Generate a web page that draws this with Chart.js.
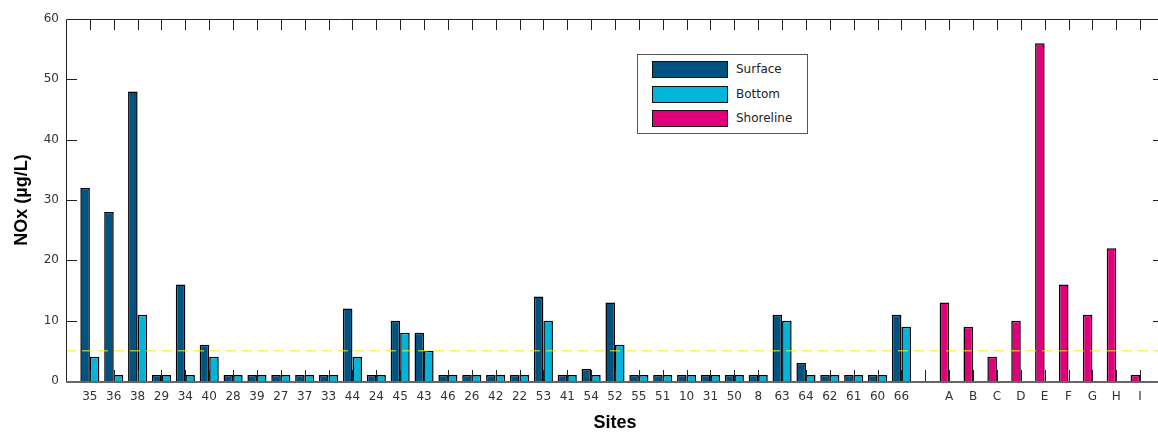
<!DOCTYPE html>
<html lang="en">
<head>
    <meta charset="UTF-8">
    <title>NOx by site</title>
    <script src="https://cdn.jsdelivr.net/npm/chart.js"></script>
    <style>
        html, body {
            margin: 0;
            padding: 0;
            overflow: hidden;
            background: #fff;
        }

        #wrap {
            position: relative;
            width: 1164px;
            height: 432px;
        }

        #noxChart {
            display: block;
        }

        #legendBox {
            position: absolute;
            left: 637px;
            top: 54px;
            width: 169px;
            height: 78px;
            border: 1px solid #555;
            background: #fff;
            font-family: "DejaVu Sans", sans-serif;
            font-size: 12px;
            color: #222;
        }

        .item {
            position: absolute;
            left: 14px;
            height: 17px;
            line-height: 17px;
        }

        .swatch {
            display: inline-block;
            width: 74px;
            height: 15px;
            border: 1px solid #111;
            vertical-align: top;
            margin-right: 8px;
        }
    </style>
</head>
<body>
    <div id="wrap">
        <canvas id="noxChart" width="1164" height="432"></canvas>
        <div id="legendBox">
            <div class="item" style="top: 6px;"><span class="swatch" style="background:#005280"></span>Surface</div>
            <div class="item" style="top: 31px;"><span class="swatch" style="background:#00B4DC"></span>Bottom</div>
            <div class="item" style="top: 55px;"><span class="swatch" style="background:#E0007A"></span>Shoreline</div>
        </div>
    </div>

    <script>
        // 조사 지점
        const sites = ['35', '36', '38', '29', '34', '40', '28', '39', '27', '37', '33', '44', '24', '45', '43', '46', '26', '42',
                       '22', '53', '41', '54', '52', '55', '51', '10', '31', '50', '8', '63', '64', '62', '61', '60', '66'];
        const surface = [32, 28, 48, 1, 16, 6, 1, 1, 1, 1, 1, 12, 1, 10, 8, 1, 1, 1,
                         1, 14, 1, 2, 13, 1, 1, 1, 1, 1, 1, 11, 3, 1, 1, 1, 11];
        const bottom = [4, 1, 11, 1, 1, 4, 1, 1, 1, 1, 1, 4, 1, 8, 5, 1, 1, 1,
                        1, 10, 1, 1, 6, 1, 1, 1, 1, 1, 1, 10, 1, 1, 1, 1, 9];

        const shoreSites = ['A', 'B', 'C', 'D', 'E', 'F', 'G', 'H', 'I'];
        const shoreline = [13, 9, 4, 10, 56, 16, 11, 22, 1];

        const refLevel = 5;
        const yTicks = [0, 10, 20, 30, 40, 50, 60];

        // 빈 칸: 맨 앞, 지점과 해안 사이, 맨 뒤
        const labels = ['', ...sites, '', ...shoreSites, ''];
        const none = n => new Array(n).fill(null);
        const surfaceData = [null, ...surface, null, ...none(shoreSites.length), null];
        const bottomData = [null, ...bottom, null, ...none(shoreSites.length), null];
        const shoreData = [null, ...none(sites.length), null, ...shoreline, null];
        const refData = labels.map(() => refLevel);

        const tickFont = { family: 'DejaVu Sans', size: 12 };

        // 안쪽 눈금과 테두리
        const framePlugin = {
            id: 'frame',
            afterDatasetsDraw(chart) {
                const { ctx, chartArea: a, scales: { x, y } } = chart;
                ctx.save();
                ctx.strokeStyle = '#222';
                ctx.lineWidth = 1;
                ctx.beginPath();
                for (let i = 1; i < labels.length - 1; i++) {
                    const px = Math.round(x.getPixelForTick(i)) + 0.5;
                    ctx.moveTo(px, a.bottom);
                    ctx.lineTo(px, a.bottom - 11);
                    ctx.moveTo(px, a.top);
                    ctx.lineTo(px, a.top + 11);
                }
                yTicks.slice(1, -1).forEach(v => {
                    const py = Math.round(y.getPixelForValue(v)) + 0.5;
                    ctx.moveTo(a.left, py);
                    ctx.lineTo(a.left + 11, py);
                    ctx.moveTo(a.right, py);
                    ctx.lineTo(a.right - 11, py);
                });
                ctx.stroke();

                ctx.beginPath();
                ctx.moveTo(a.left + 0.5, a.bottom);
                ctx.lineTo(a.left + 0.5, a.top + 0.5);
                ctx.lineTo(a.right - 0.5, a.top + 0.5);
                ctx.lineTo(a.right - 0.5, a.bottom);
                ctx.stroke();

                ctx.strokeStyle = '#666';
                ctx.lineWidth = 2;
                ctx.beginPath();
                ctx.moveTo(a.left, a.bottom + 1);
                ctx.lineTo(a.right, a.bottom + 1);
                ctx.stroke();
                ctx.restore();
            }
        };

        const ctx = document.getElementById('noxChart').getContext('2d');
        new Chart(ctx, {
            type: 'bar',
            data: {
                labels: labels,
                datasets: [
                    {
                        type: 'line',
                        label: 'ref',
                        data: refData,
                        borderColor: '#F0F000',
                        borderWidth: 1,
                        borderDash: [10, 6],
                        pointRadius: 0,
                        fill: false,
                        order: -1
                    },
                    {
                        label: 'Surface',
                        data: surfaceData,
                        backgroundColor: '#005280',
                        borderColor: '#000',
                        borderWidth: 1.5,
                        stack: 'a'
                    },
                    {
                        label: 'Bottom',
                        data: bottomData,
                        backgroundColor: '#00B4DC',
                        borderColor: '#000',
                        borderWidth: 1.5,
                        stack: 'b'
                    },
                    {
                        label: 'Shoreline',
                        data: shoreData,
                        backgroundColor: '#E0007A',
                        borderColor: '#000',
                        borderWidth: 1.5,
                        stack: 'a'
                    }
                ]
            },
            options: {
                responsive: false,
                animation: false,
                categoryPercentage: 0.8,
                barPercentage: 1.0,
                layout: { padding: { top: 19, right: 0, bottom: 0, left: 0 } },
                plugins: {
                    legend: { display: false },
                    tooltip: { enabled: false }
                },
                scales: {
                    x: {
                        offset: false,
                        grid: { display: false, drawTicks: false },
                        border: { display: false },
                        ticks: {
                            autoSkip: false,
                            maxRotation: 0,
                            padding: 9,
                            color: '#333',
                            font: tickFont
                        },
                        title: {
                            display: true,
                            text: 'Sites',
                            color: '#000',
                            font: { family: 'Liberation Sans', size: 18, weight: 'bold', lineHeight: 1 },
                            padding: { top: 0, bottom: 0 }
                        },
                        afterFit(s) {
                            s.height = 51;
                            s.paddingLeft = 0;
                            s.paddingRight = 0;
                        }
                    },
                    y: {
                        min: 0,
                        max: 60,
                        grid: { display: false, drawTicks: false },
                        border: { display: false },
                        ticks: {
                            stepSize: 10,
                            padding: 7,
                            color: '#333',
                            font: tickFont
                        },
                        title: {
                            display: true,
                            text: 'NOx (µg/L)',
                            color: '#000',
                            font: { family: 'Liberation Sans', size: 18, weight: 'bold', lineHeight: 1 },
                            padding: { top: 13, bottom: 0 }
                        },
                        afterFit(s) { s.width = 66; }
                    }
                }
            },
            plugins: [framePlugin]
        });
    </script>
</body>
</html>
